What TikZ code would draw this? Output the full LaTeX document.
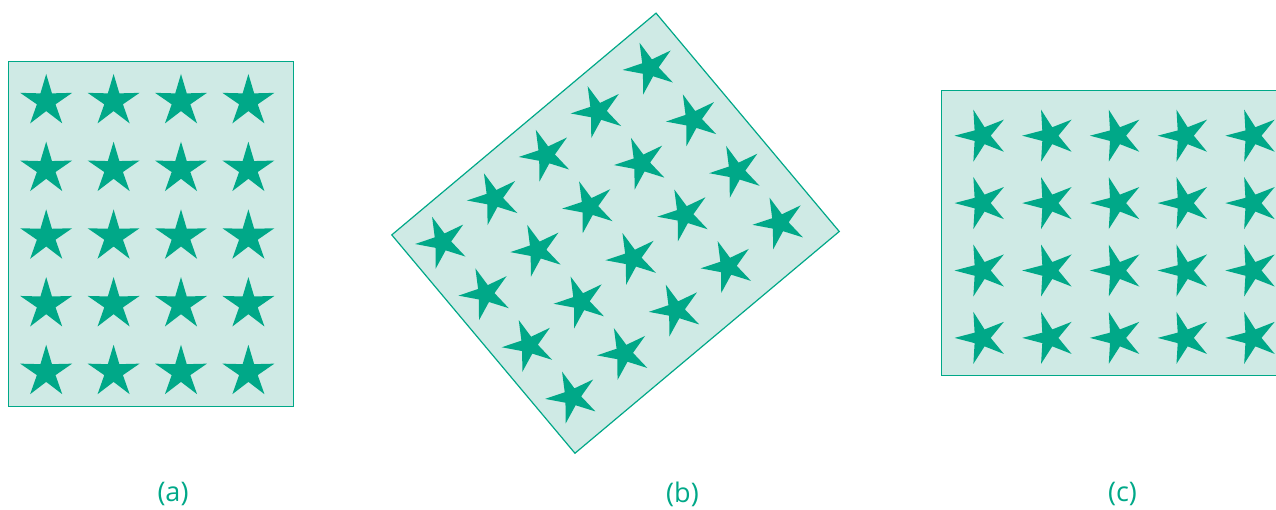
\documentclass[tikz,border=0pt]{standalone}
\usepackage{fontspec}
\setmainfont{Open Sans}
\definecolor{teal}{HTML}{00A888}
\definecolor{panelbg}{HTML}{CFEAE5}
\newcommand\starinner{9.8}
\tikzset{
  panelbox/.style={draw=teal, fill=panelbg, line width=1.2pt},
  labeltext/.style={text=teal, font=\fontsize{27}{30}\selectfont, inner sep=0pt},
  starpic/.pic={
    \def\Ro{27.3}\def\Ri{\starinner}
    \fill[teal] (90:\Ro) -- (126:\Ri) -- (162:\Ro) -- (198:\Ri) -- (234:\Ro)
      -- (270:\Ri) -- (306:\Ro) -- (342:\Ri) -- (18:\Ro) -- (54:\Ri) -- cycle;
  }
}
\newcommand\panelcontent{%
  \draw[panelbox] (-142.5,-172.5) rectangle (142.5,172.5);
  \foreach \i in {0,...,3}{
    \foreach \j in {0,...,4}{
      \pic[transform shape] at ({-104.5+67.4*\i},{132.4-67.7*\j}) {starpic};
    }
  }
}
\begin{document}
\begin{tikzpicture}[x=1pt,y=1pt]
  \useasboundingbox (0,0) rectangle (1276,510);
  \clip (0,0) rectangle (1276,510);
  % panel (a)
  \begin{scope}[shift={(150.7,276.3)}]
    \panelcontent
  \end{scope}
  \renewcommand\starinner{8.9}
  % panel (b)
  \begin{scope}[shift={(615.5,276.8)}, rotate=-50]
    \panelcontent
  \end{scope}
  % panel (c)
  \begin{scope}[shift={(1114.2,276.6)}, rotate=90]
    \panelcontent
  \end{scope}
  \node[labeltext] (la) at (173,16) {(a)};
  \node[labeltext] (lb) at (682.5,16) {(b)};
  \node[labeltext] (lc) at (1122.5,16) {(c)};
\end{tikzpicture}
\end{document}
